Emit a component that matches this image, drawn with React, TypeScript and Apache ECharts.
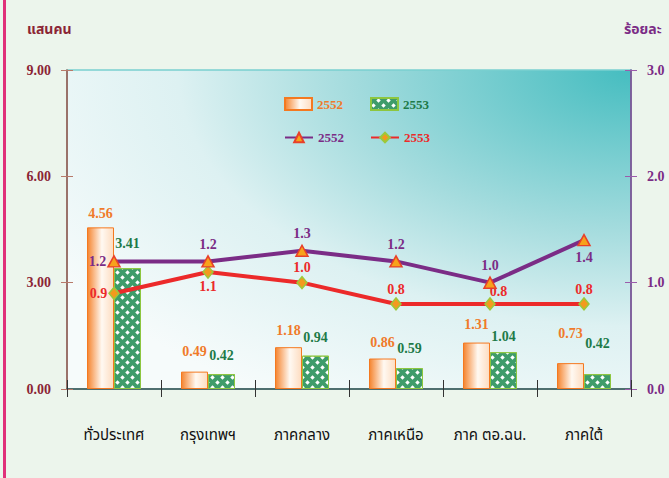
import React, { useEffect, useRef } from 'react';
import * as echarts from 'echarts';

const categories = ['ทั่วประเทศ', 'กรุงเทพฯ', 'ภาคกลาง', 'ภาคเหนือ', 'ภาค ตอ.ฉน.', 'ภาคใต้'];
const bars2552 = [4.56, 0.49, 1.18, 0.86, 1.31, 0.73];
const bars2553 = [3.41, 0.42, 0.94, 0.59, 1.04, 0.42];
const rate2552 = [1.2, 1.2, 1.3, 1.2, 1.0, 1.4];
const rate2553 = [0.9, 1.1, 1.0, 0.8, 0.8, 0.8];
const yearNames = ['2552', '2553'];
const leftAxisName = 'แสนคน';
const rightAxisName = 'ร้อยละ';

// label placement (style, not data)
const barGap2552 = [7, 13, 10, 9, 11, 23];
const barGap2553 = [18, 12, 11, 13, 9, 24];
const pos2552 = ['left', 'top', 'top', 'top', 'top', 'bottom'];
const pos2553 = ['left', 'bottom', 'top', 'top', 'right', 'top'];

const NUM_FONT = '"Liberation Serif", "Times New Roman", serif';
const THAI_FONT = '"Noto Sans Thai", "Loma", "Garuda", "Norasi", "TlwgTypo", "DejaVu Sans", sans-serif';

const C_ORANGE = '#F07A2A';
const C_GREEN = '#1E7A48';
const C_PURPLE = '#7B2C86';
const C_RED = '#EC2A2A';
const C_MAROON = '#8B2535';

function lineLabel(pos: string) {
  if (pos === 'left') return { position: 'left', distance: 1 };
  if (pos === 'right') return { position: 'right', offset: [-7, -12] };
  return { position: pos };
}

function buildOption() {
  const grid = { left: 67, right: 38, top: 70, bottom: 89 };
  const numLabel = { fontFamily: NUM_FONT, fontWeight: 'bold' as const, fontSize: 14 };
  const greenDecal = {
    symbol: 'diamond', symbolSize: 0.9, color: '#FFFFFF',
    dashArrayX: [[4.5, 4.5], [0, 4.5, 4.5, 0]],
    dashArrayY: [4.5, 0],
    rotation: 0,
  };
  return {
    animation: false,
    backgroundColor: '#ECF5EC',
    grid: {
      ...grid,
      show: true,
      borderColor: '#7ACFCF',
      borderWidth: 1.5,
      backgroundColor: new echarts.graphic.RadialGradient(1, 0, 1.2, [
        { offset: 0, color: '#45BDC0' },
        { offset: 0.42, color: '#A5DCDE' },
        { offset: 0.67, color: '#DDF1F2' },
        { offset: 1, color: '#F6FBFB' },
      ]),
    },
    graphic: [
      { type: 'rect', left: 3, top: 0, shape: { width: 3, height: 478 }, style: { fill: '#E0307A' } },
      {
        type: 'text', left: 27, top: 22,
        style: { text: leftAxisName, fill: C_MAROON, font: `bold 14px ${THAI_FONT}` },
      },
      {
        type: 'text', left: 624, top: 22,
        style: { text: rightAxisName, fill: C_PURPLE, font: `bold 14px ${THAI_FONT}` },
      },
    ],
    legend: [
      {
        left: 279, top: 92, itemWidth: 27, itemHeight: 12, itemGap: 27,
        icon: 'rect',
        textStyle: { ...numLabel, fontSize: 13 },
        data: [
          { name: yearNames[0], textStyle: { color: C_ORANGE } },
          { name: yearNames[1], textStyle: { color: C_GREEN } },
        ],
        selectedMode: false,
      },
      {
        left: 279, top: 126, itemWidth: 28, itemHeight: 12, itemGap: 26,
        textStyle: { ...numLabel, fontSize: 13 },
        formatter: (n: string) => n.replace('line', ''),
        data: [
          { name: 'line' + yearNames[0], textStyle: { color: C_PURPLE } },
          { name: 'line' + yearNames[1], textStyle: { color: C_RED } },
        ],
        selectedMode: false,
      },
    ],
    xAxis: [
      {
        type: 'category',
        data: categories,
        axisLine: { lineStyle: { color: '#4F6F6F', width: 2 } },
        axisTick: { show: true, length: 8, lineStyle: { color: '#333' } },
        axisLabel: { color: '#111', fontSize: 15, fontFamily: THAI_FONT, margin: 39, interval: 0 },
      },
      {
        type: 'category',
        data: categories,
        position: 'bottom',
        axisLine: { show: false },
        axisTick: { show: true, inside: true, length: 9, lineStyle: { color: '#333' } },
        axisLabel: { show: false },
      },
    ],
    yAxis: [
      {
        type: 'value', min: 0, max: 9, interval: 3, position: 'left',
        axisLine: { show: true, lineStyle: { color: '#9B4F45', width: 1.5 } },
        axisTick: { show: true, length: 6, lineStyle: { color: '#B77A6A' } },
        splitLine: { show: false },
        axisLabel: { ...numLabel, color: C_MAROON, margin: 16, formatter: (v: number) => v.toFixed(2) },
      },
      {
        type: 'value', min: 0, max: 3, interval: 1, position: 'right',
        axisLine: { show: true, lineStyle: { color: '#7B3C8B', width: 1.5 } },
        axisTick: { show: true, length: 6, lineStyle: { color: '#9B5CAB' } },
        splitLine: { show: false },
        axisLabel: { ...numLabel, color: C_PURPLE, margin: 16, formatter: (v: number) => v.toFixed(1) },
      },
      {
        type: 'value', min: 0, max: 9, interval: 3, position: 'left',
        axisLine: { show: false }, splitLine: { show: false }, axisLabel: { show: false },
        axisTick: { show: true, inside: true, length: 6, lineStyle: { color: '#B77A6A' } },
      },
      {
        type: 'value', min: 0, max: 3, interval: 1, position: 'right',
        axisLine: { show: false }, splitLine: { show: false }, axisLabel: { show: false },
        axisTick: { show: true, inside: true, length: 6, lineStyle: { color: '#9B5CAB' } },
      },
    ],
    series: [
      {
        name: yearNames[0], type: 'bar', yAxisIndex: 0, barWidth: 27, barGap: '0%',
        data: bars2552.map((v, i) => ({ value: v, label: { distance: barGap2552[i] } })),
        itemStyle: {
          color: new echarts.graphic.LinearGradient(0, 0, 1, 0, [
            { offset: 0, color: '#F5842F' },
            { offset: 0.55, color: '#FFF9F2' },
            { offset: 1, color: '#FDDCC0' },
          ]),
          borderColor: '#F47920', borderWidth: 1,
        },
        label: { show: true, position: 'top', ...numLabel, color: C_ORANGE, formatter: (p: any) => Number(p.value).toFixed(2) },
      },
      {
        name: yearNames[1], type: 'bar', yAxisIndex: 0, barWidth: 27, barGap: '0%',
        data: bars2553.map((v, i) => ({ value: v, label: { distance: barGap2553[i] } })),
        itemStyle: {
          color: '#3E9C6A',
          borderColor: '#8DC63F', borderWidth: 1,
          decal: greenDecal,
        },
        label: { show: true, position: 'top', ...numLabel, color: C_GREEN, formatter: (p: any) => Number(p.value).toFixed(2) },
      },
      {
        name: 'line' + yearNames[0], type: 'line', yAxisIndex: 1,
        data: rate2552.map((v, i) => ({ value: v, label: lineLabel(pos2552[i]) })),
        symbol: 'triangle', symbolSize: [12, 11],
        lineStyle: { color: C_PURPLE, width: 4 },
        itemStyle: { color: '#F7A21B', borderColor: '#E8402A', borderWidth: 1.5 },
        label: { show: true, distance: 4, ...numLabel, color: C_PURPLE, formatter: (p: any) => Number(p.value).toFixed(1) },
        z: 5,
      },
      {
        name: 'line' + yearNames[1], type: 'line', yAxisIndex: 1,
        data: rate2553.map((v, i) => ({ value: v, label: lineLabel(pos2553[i]) })),
        symbol: 'diamond', symbolSize: [10, 12],
        lineStyle: { color: C_RED, width: 4 },
        itemStyle: { color: '#F39A1E', borderColor: '#9CC93A', borderWidth: 1.5 },
        label: { show: true, distance: 1, ...numLabel, color: C_RED, formatter: (p: any) => Number(p.value).toFixed(1) },
        z: 4,
      },
    ],
  };
}

export default function App() {
  const ref = useRef<HTMLDivElement>(null);
  useEffect(() => {
    document.body.style.margin = '0';
    const chart = echarts.init(ref.current!, null, { renderer: 'svg' });
    chart.setOption(buildOption() as any);
    return () => chart.dispose();
  }, []);
  return <div ref={ref} style={{ width: 669, height: 478 }} />;
}
